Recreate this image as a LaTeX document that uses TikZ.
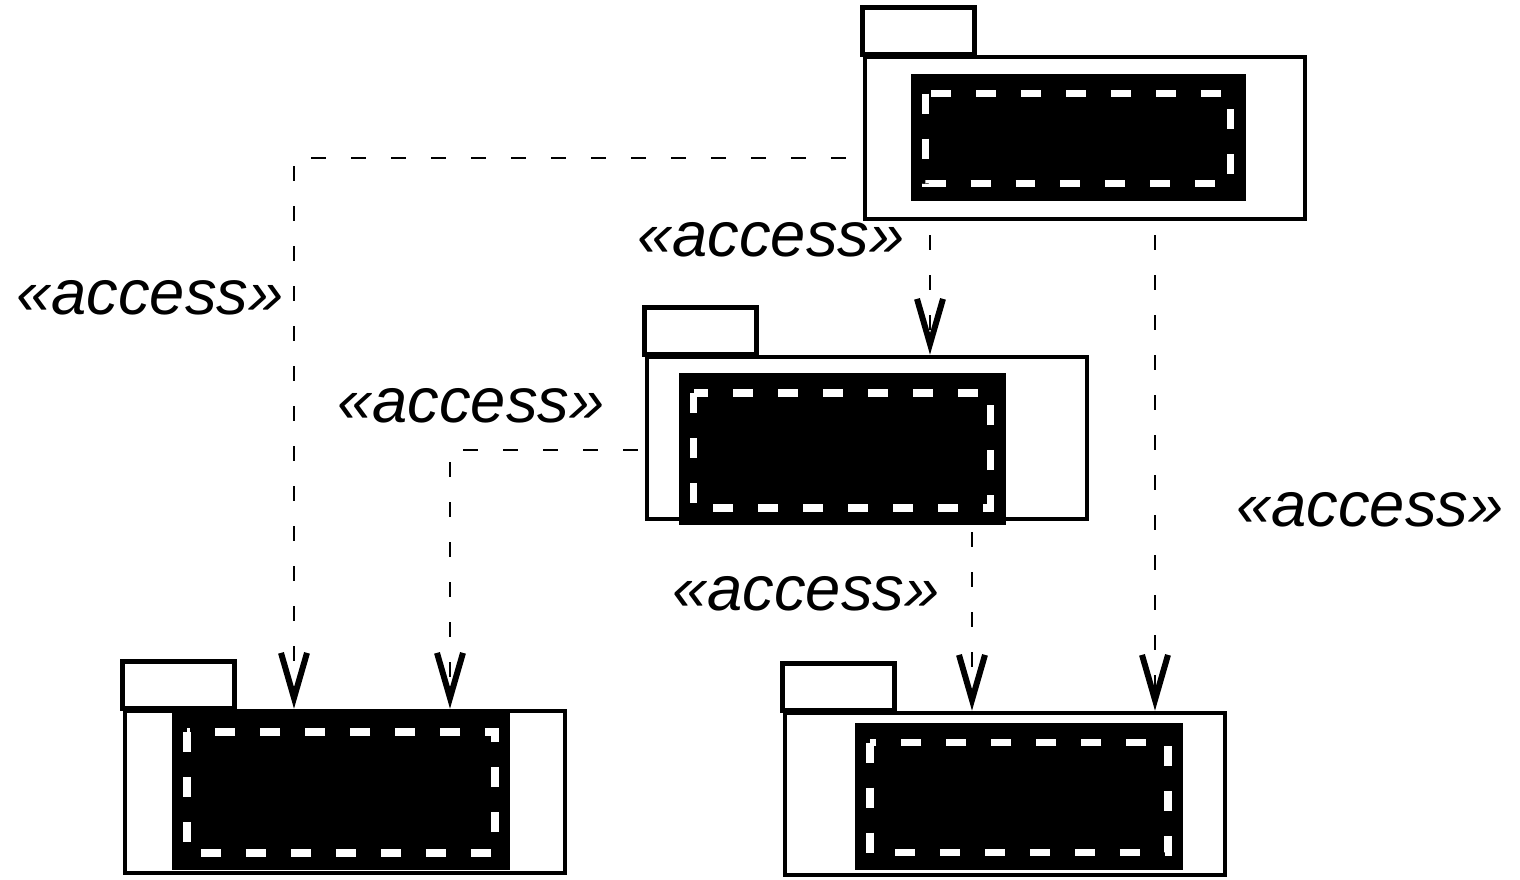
\documentclass[tikz,border=0pt]{standalone}
\usepackage{fontspec}
\setmainfont{Liberation Sans}
\usetikzlibrary{arrows.meta}
\tikzset{
    package/.style={draw, line width=1.35pt, minimum width=4.4cm, minimum height=1.62cm, inner sep=0pt},
    pkgname/.style={fill=black, inner sep=0pt,
        path picture={\draw[white, line width=2pt, dash pattern=on 0.2cm off 0.25cm]
            ([shift={(0.15,-0.2)}]path picture bounding box.north west) rectangle
            ([shift={(-0.15,0.17)}]path picture bounding box.south east);}},
    access/.style={font=\fontsize{18}{20}\selectfont\itshape, inner sep=0pt},
    dep/.style={line width=0.6pt, dash pattern=on 0.15cm off 0.25cm,
        -{Straight Barb[length=4.5mm, width=2.6mm, line width=1.7pt]}}
}
\begin{document}
\begin{tikzpicture}
    \useasboundingbox (0,0) rectangle (15.2,8.79);
    % Package bodies
    \node[package] (top) at (10.85,7.41) {};
    \node[package] (mid) at (8.67,4.41) {};
    \node[package] (botleft) at (3.45,0.87) {};
    \node[package] (botright) at (10.05,0.85) {};
    % Tabs
    \foreach \p in {top,mid,botleft,botright}
        \draw[line width=1.35pt] (\p.north west) rectangle ++(1.12,0.47);
    % Names
    \node[pkgname, minimum width=3.35cm, minimum height=1.27cm] (topname) at (10.78,7.42) {};
    \node[pkgname, minimum width=3.27cm, minimum height=1.52cm] (midname) at (8.42,4.30) {};
    \node[pkgname, minimum width=3.38cm, minimum height=1.58cm] (botleftname) at (3.41,0.88) {};
    \node[pkgname, minimum width=3.28cm, minimum height=1.47cm] (botrightname) at (10.19,0.83) {};
    % Access dependencies
    \coordinate (s1) at ([xshift=-0.17cm,yshift=-0.2cm]top.west);
    \coordinate (s2) at ([xshift=-1.55cm,yshift=-0.14cm]top.south);
    \coordinate (s3) at ([xshift=0.70cm,yshift=-0.14cm]top.south);
    \coordinate (s4) at ([xshift=-0.07cm,yshift=-0.12cm]mid.west);
    \coordinate (s5) at ([xshift=1.05cm,yshift=-0.11cm]mid.south);
    \draw[dep] (s1) -| ([xshift=-0.51cm]botleft.north);
    \draw[dep] (s2) -- (s2 |- mid.north);
    \draw[dep] (s3) -- (s3 |- botright.north);
    \draw[dep] (s4) -| ([xshift=1.05cm]botleft.north);
    \draw[dep] (s5) -- (s5 |- botright.north);
    % Labels
    \node[access] (acc1) at (1.50,5.81) {«access»};
    \node[access] (acc2) at (7.71,6.39) {«access»};
    \node[access] (acc3) at (4.71,4.73) {«access»};
    \node[access] (acc4) at (8.06,2.85) {«access»};
    \node[access] (acc5) at (13.70,3.69) {«access»};
\end{tikzpicture}
\end{document}
